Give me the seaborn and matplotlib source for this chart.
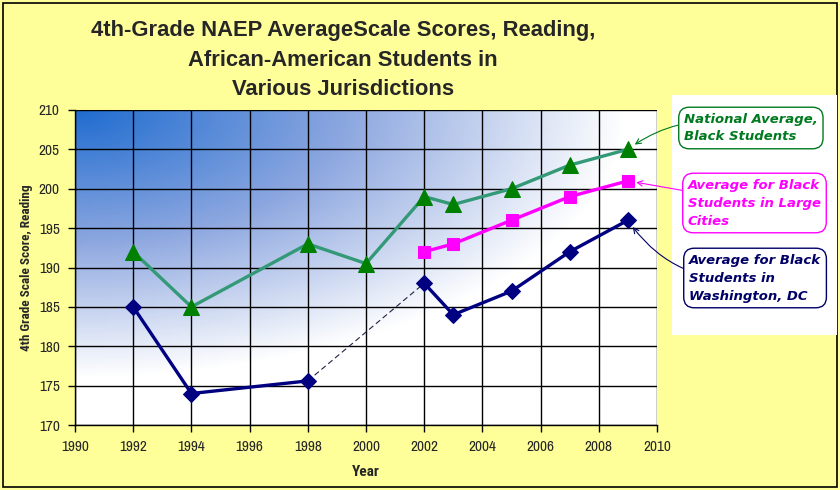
import numpy as np
import matplotlib
matplotlib.use("Agg")
import matplotlib.pyplot as plt
from matplotlib.patches import Rectangle
from matplotlib.colors import LinearSegmentedColormap
import seaborn as sns

# data
nat_years = [1992, 1994, 1998, 2000, 2002, 2003, 2005, 2007, 2009]
nat_scores = [192, 185, 193, 190.5, 199, 198, 200, 203, 205]

city_years = [2002, 2003, 2005, 2007, 2009]
city_scores = [192, 193, 196, 199, 201]

dc_years = [1992, 1994, 1998, 2002, 2003, 2005, 2007, 2009]
dc_scores = [185, 174, 175.6, 188, 184, 187, 192, 196]

x_ticks = list(range(1990, 2011, 2))
y_ticks = list(range(170, 211, 5))

title = "4th-Grade NAEP AverageScale Scores, Reading,\nAfrican-American Students in\nVarious Jurisdictions"
label_nat = "National Average,\nBlack Students"
label_city = "Average for Black\nStudents in Large\nCities"
label_dc = "Average for Black\nStudents in\nWashington, DC"

sns.set_style("white")
narrow = ['Archivo Narrow', 'PT Sans Narrow', 'Liberation Sans', 'DejaVu Sans']
cond_bold = ['Roboto Condensed', 'PT Sans Narrow', 'Liberation Sans', 'DejaVu Sans']
plt.rcParams['font.family'] = narrow

fig = plt.figure(figsize=(8.4, 4.9), dpi=100, facecolor="#FFFF99")
fig.patches.append(Rectangle((0.004, 0.006), 0.992, 0.988, transform=fig.transFigure,
                             fill=False, edgecolor="black", lw=1.2, zorder=-2))
# white panel behind the labels
fig.patches.append(Rectangle((672 / 840, 1 - 335 / 490), 165 / 840, 240 / 490,
                             transform=fig.transFigure, facecolor="white", edgecolor="none",
                             zorder=-1))

ax = fig.add_axes([75 / 840, 65 / 490, 582 / 840, 315 / 490])

# gradient background (blue top-left to white)
gx, gy = np.meshgrid(np.linspace(0, 1, 300), np.linspace(0, 1, 300))
t = np.clip(np.sqrt((gx / 0.95) ** 2 + (gy / 0.85) ** 2), 0, 1)
cmap = LinearSegmentedColormap.from_list("bg", ["#1f6cd0", "#8ea8e0", "#ffffff"])
ax.imshow(t, extent=[1990, 2010, 170, 210], aspect="auto", cmap=cmap, vmin=0, vmax=1,
          zorder=0, origin="upper")

# DC dashed connector 1998-2002
sns.lineplot(x=dc_years[2:4], y=dc_scores[2:4], ax=ax, color="#222244", lw=0.8,
             linestyle=(0, (5, 3)), zorder=3)

sns.lineplot(x=nat_years, y=nat_scores, ax=ax, color="#339977", lw=2.4, marker="^",
             markersize=11, markerfacecolor="#008000", markeredgecolor="#008000", zorder=4)
sns.lineplot(x=city_years, y=city_scores, ax=ax, color="#FF00FF", lw=2.4, marker="s",
             markersize=9, markerfacecolor="#FF00FF", markeredgecolor="#FF00FF", zorder=4)
sns.lineplot(x=dc_years[:3], y=dc_scores[:3], ax=ax, color="#000080", lw=2.4, marker="D",
             markersize=8.5, markerfacecolor="#000080", markeredgecolor="#000080", zorder=4)
sns.lineplot(x=dc_years[3:], y=dc_scores[3:], ax=ax, color="#000080", lw=2.4, marker="D",
             markersize=8.5, markerfacecolor="#000080", markeredgecolor="#000080", zorder=4)

ax.set_xlim(1990, 2010)
ax.set_ylim(170, 210)
ax.set_xticks(x_ticks)
ax.set_yticks(y_ticks)
ax.grid(True, color="black", lw=1.0)
ax.tick_params(axis="both", which="both", direction="out", length=5, width=1,
               color="black", labelsize=11, pad=6, bottom=True, left=True)
for side in ["top", "right"]:
    ax.spines[side].set_visible(False)
for side in ["left", "bottom"]:
    ax.spines[side].set_color("black")
    ax.spines[side].set_linewidth(1)

ax.set_xlabel("Year", fontsize=11, fontweight="bold", family=cond_bold, labelpad=8)
ax.set_ylabel("4th Grade Scale Score, Reading", fontsize=9.5, fontweight="bold",
              family=cond_bold, labelpad=4)

fig.text(343 / 840, 1 - 60 / 490, title, ha="center", va="center", fontsize=15.8,
         fontweight="bold", family=['Liberation Sans', 'DejaVu Sans'], linespacing=1.55)

# callout labels with arrows
callouts = [
    (label_nat, nat_years[-1], nat_scores[-1], "#007A1F", (754 / 840, 1 - 128 / 490), 0.25),
    (label_city, city_years[-1], city_scores[-1], "#FF00FF", (758 / 840, 1 - 203 / 490), 0.0),
    (label_dc, dc_years[-1], dc_scores[-1], "#000066", (759 / 840, 1 - 278 / 490), -0.3),
]
for text, xv, yv, col, pos, rad in callouts:
    ax.annotate(text, xy=(xv, yv), xycoords="data", xytext=pos, textcoords="figure fraction",
                ha="left", va="center", fontsize=9.5, fontweight="bold", style="oblique",
                family=["DejaVu Sans"], color=col, linespacing=1.5,
                bbox=dict(boxstyle="round,pad=0.4,rounding_size=0.8", fc="white", ec=col, lw=1),
                arrowprops=dict(arrowstyle="->", color=col, lw=0.8,
                                connectionstyle=f"arc3,rad={rad}", shrinkA=0, shrinkB=6),
                annotation_clip=False, zorder=6)
    ax.texts[-1].set_position((pos[0] - 70 / 840, pos[1]))

fig.savefig("out.png", dpi=100, facecolor=fig.get_facecolor())
